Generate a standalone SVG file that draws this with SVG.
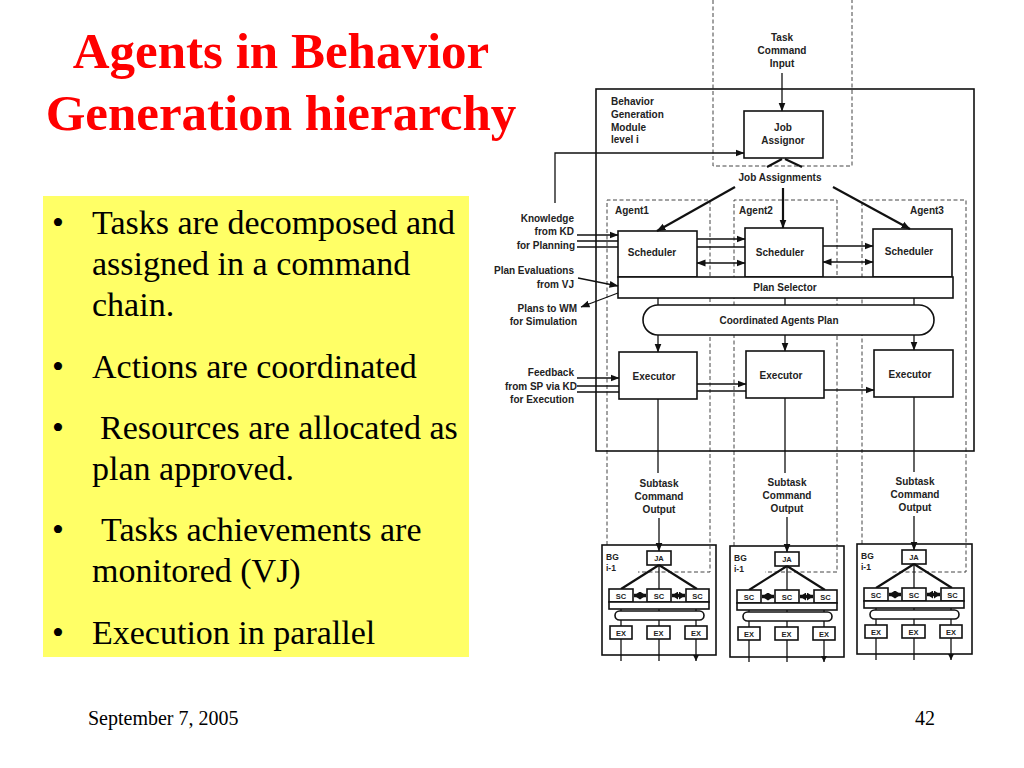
<svg xmlns="http://www.w3.org/2000/svg" width="1024" height="768" viewBox="0 0 1024 768">
<defs>
<marker id="ah" markerUnits="userSpaceOnUse" markerWidth="9" markerHeight="8" refX="8.5" refY="4" orient="auto-start-reverse" viewBox="0 0 9 8"><path d="M0,0.5 L9,4 L0,7.5 z" fill="#111"/></marker>
<marker id="ahs" markerUnits="userSpaceOnUse" markerWidth="6" markerHeight="6" refX="6" refY="3" orient="auto-start-reverse" viewBox="0 0 6 6"><path d="M0,0 L6,3 L0,6 z" fill="#111"/></marker>
<marker id="ahb" markerUnits="userSpaceOnUse" markerWidth="6" markerHeight="8" refX="6" refY="4" orient="auto-start-reverse" viewBox="0 0 6 8"><path d="M0,0 L6,4 L0,8 z" fill="#111"/></marker>
</defs>
<style>
.box{fill:#fff;stroke:#111;stroke-width:1.6}
.obox{fill:none;stroke:#111;stroke-width:1.6}
.ln{fill:none;stroke:#111;stroke-width:1.3}
.thk{fill:none;stroke:#111;stroke-width:2.2}
.dbl{fill:none;stroke:#111;stroke-width:3.5}
.dash{fill:none;stroke:#444;stroke-width:1;stroke-dasharray:4 2.5}
.t{font-family:"Liberation Sans",Arial,sans-serif;font-weight:bold;font-size:10px;fill:#222}
.c{text-anchor:middle}
.r{text-anchor:end}
.s{font-size:7.5px}
.title{font-family:"Liberation Serif","Times New Roman",serif;font-weight:bold;font-size:51px;fill:#ff0000;text-anchor:middle}
.bul{font-family:"Liberation Serif","Times New Roman",serif;font-size:34px;fill:#000}
.foot{font-family:"Liberation Serif","Times New Roman",serif;font-size:20px;fill:#000}
</style>
<rect x="0" y="0" width="1024" height="768" fill="#fff"/>

<g id="title">
<text class="title" x="281" y="68">Agents in Behavior</text>
<text class="title" x="281" y="130">Generation hierarchy</text>
</g>

<g id="bullets">
<rect x="43" y="196" width="426" height="461" fill="#ffff66"/>
<text class="bul" x="52" y="234">•</text>
<text class="bul" x="92" y="234">Tasks are decomposed and</text>
<text class="bul" x="92" y="275">assigned in a command</text>
<text class="bul" x="92" y="316">chain.</text>
<text class="bul" x="52" y="378">•</text>
<text class="bul" x="92" y="378">Actions are coordinated</text>
<text class="bul" x="52" y="439">•</text>
<text class="bul" x="100" y="439">Resources are allocated as</text>
<text class="bul" x="92" y="480">plan approved.</text>
<text class="bul" x="52" y="541">•</text>
<text class="bul" x="101" y="541">Tasks achievements are</text>
<text class="bul" x="92" y="582">monitored (VJ)</text>
<text class="bul" x="52" y="644">•</text>
<text class="bul" x="92" y="644">Execution in parallel</text>
</g>

<g id="footer">
<text class="foot" x="88" y="725">September 7, 2005</text>
<text class="foot" x="915" y="725">42</text>
</g>

<g id="agent-regions">
<path class="dash" d="M713,0 V166 H852 V0"/>
<path class="dash" d="M607,545 V200 H710 V545"/>
<path class="dash" d="M734,546 V200 H837 V546"/>
<path class="dash" d="M862,544 V200 H966 V544"/>
</g>

<g id="bg-module">
<rect class="obox" x="596" y="89" width="378" height="362"/>
<text class="t" x="611" y="105">Behavior</text>
<text class="t" x="611" y="118">Generation</text>
<text class="t" x="611" y="131">Module</text>
<text class="t" x="611" y="143">level i</text>
</g>

<g id="task-input">
<text class="t c" x="782" y="41">Task</text>
<text class="t c" x="782" y="54">Command</text>
<text class="t c" x="782" y="67">Input</text>
</g>

<g id="job-assignor">
<rect class="box" x="744" y="111" width="79" height="47"/>
<text class="t c" x="783" y="131">Job</text>
<text class="t c" x="783" y="144">Assignor</text>
</g>

<g id="job-assignments-label">
<text class="t c" x="780" y="181">Job Assignments</text>
</g>

<g id="agent-labels">
<text class="t" x="615" y="214">Agent1</text>
<text class="t" x="739" y="214">Agent2</text>
<text class="t" x="910" y="214">Agent3</text>
</g>

<g id="scheduler1">
<rect class="box" x="618" y="231" width="79" height="46"/>
<text class="t c" x="652" y="256">Scheduler</text>
</g>
<g id="scheduler2">
<rect class="box" x="745" y="228" width="78" height="49"/>
<text class="t c" x="780" y="256">Scheduler</text>
</g>
<g id="scheduler3">
<rect class="box" x="873" y="229" width="79" height="48"/>
<text class="t c" x="909" y="255">Scheduler</text>
</g>

<g id="plan-selector">
<rect class="box" x="618" y="277" width="335" height="21"/>
<text class="t c" x="785" y="291">Plan Selector</text>
</g>

<g id="coordinated-plan">
<rect class="box" x="643" y="305" width="291" height="30" rx="15" ry="15"/>
<text class="t c" x="779" y="324">Coordinated Agents Plan</text>
</g>

<g id="executor1">
<rect class="box" x="619" y="352" width="78" height="47"/>
<text class="t c" x="654" y="380">Executor</text>
</g>
<g id="executor2">
<rect class="box" x="746" y="351" width="78" height="47"/>
<text class="t c" x="781" y="379">Executor</text>
</g>
<g id="executor3">
<rect class="box" x="874" y="350" width="79" height="47"/>
<text class="t c" x="910" y="378">Executor</text>
</g>

<g id="side-labels">
<text class="t r" x="574" y="222">Knowledge</text>
<text class="t r" x="574" y="235">from KD</text>
<text class="t r" x="575" y="249">for Planning</text>
<text class="t r" x="574" y="274">Plan Evaluations</text>
<text class="t r" x="574" y="288">from VJ</text>
<text class="t r" x="577" y="312">Plans to WM</text>
<text class="t r" x="577" y="325">for Simulation</text>
<text class="t r" x="574" y="376">Feedback</text>
<text class="t r" x="577" y="390">from SP via KD</text>
<text class="t r" x="574" y="403">for Execution</text>
</g>

<g id="subtask-labels">
<text class="t c" x="659" y="487">Subtask</text>
<text class="t c" x="659" y="500">Command</text>
<text class="t c" x="659" y="513">Output</text>
<text class="t c" x="787" y="486">Subtask</text>
<text class="t c" x="787" y="499">Command</text>
<text class="t c" x="787" y="512">Output</text>
<text class="t c" x="915" y="485">Subtask</text>
<text class="t c" x="915" y="498">Command</text>
<text class="t c" x="915" y="511">Output</text>
</g>

<g id="bg-lower-1" transform="translate(602,545)">
<rect class="box" x="0" y="0" width="114" height="110"/>
<path class="dash" d="M108,0 V27 H36"/>
<text class="t" x="4" y="15" style="font-size:8.5px">BG</text>
<text class="t" x="4" y="26" style="font-size:8.5px">i-1</text>
<rect class="box" x="45" y="6" width="24" height="14"/>
<text class="t c s" x="57" y="16">JA</text>
<path class="thk" d="M57,20 L19,44 M57,20 L95,44"/>
<path class="ln" d="M57,20 V44"/>
<rect class="box" x="7" y="44" width="24" height="13"/>
<rect class="box" x="45" y="44" width="24" height="13"/>
<rect class="box" x="84" y="44" width="23" height="13"/>
<text class="t c s" x="19" y="53.5">SC</text>
<text class="t c s" x="57" y="53.5">SC</text>
<text class="t c s" x="95.5" y="53.5">SC</text>
<path class="dbl" d="M32,50.5 H44" marker-start="url(#ahb)" marker-end="url(#ahb)"/>
<path class="dbl" d="M70,50.5 H83" marker-start="url(#ahb)" marker-end="url(#ahb)"/>
<rect class="box" x="7" y="57" width="100" height="7"/>
<path class="ln" d="M19,64 V81 M57,64 V81 M94,64 V81"/>
<rect class="box" x="13" y="66" width="89" height="9" rx="4.5"/>
<rect class="box" x="8" y="81" width="22" height="13"/>
<rect class="box" x="45" y="81" width="23" height="13"/>
<rect class="box" x="83" y="81" width="22" height="13"/>
<text class="t c s" x="19" y="90.5">EX</text>
<text class="t c s" x="56.5" y="90.5">EX</text>
<text class="t c s" x="94" y="90.5">EX</text>
<path class="ln" d="M19,94 V116 M57,94 V116 M94,94 V116" marker-end="url(#ahs)"/>
</g>

<g id="bg-lower-2" transform="translate(730,546)">
<rect class="box" x="0" y="0" width="114" height="111"/>
<path class="dash" d="M107,0 V26 H35"/>
<text class="t" x="4" y="15" style="font-size:8.5px">BG</text>
<text class="t" x="4" y="26" style="font-size:8.5px">i-1</text>
<rect class="box" x="45" y="6" width="24" height="14"/>
<text class="t c s" x="57" y="16">JA</text>
<path class="thk" d="M57,20 L19,44 M57,20 L95,44"/>
<path class="ln" d="M57,20 V44"/>
<rect class="box" x="7" y="44" width="24" height="13"/>
<rect class="box" x="45" y="44" width="24" height="13"/>
<rect class="box" x="84" y="44" width="23" height="13"/>
<text class="t c s" x="19" y="53.5">SC</text>
<text class="t c s" x="57" y="53.5">SC</text>
<text class="t c s" x="95.5" y="53.5">SC</text>
<path class="dbl" d="M32,50.5 H44" marker-start="url(#ahb)" marker-end="url(#ahb)"/>
<path class="dbl" d="M70,50.5 H83" marker-start="url(#ahb)" marker-end="url(#ahb)"/>
<rect class="box" x="7" y="57" width="100" height="7"/>
<path class="ln" d="M19,64 V81 M57,64 V81 M94,64 V81"/>
<rect class="box" x="13" y="66" width="89" height="9" rx="4.5"/>
<rect class="box" x="8" y="81" width="22" height="13"/>
<rect class="box" x="45" y="81" width="23" height="13"/>
<rect class="box" x="83" y="81" width="22" height="13"/>
<text class="t c s" x="19" y="90.5">EX</text>
<text class="t c s" x="56.5" y="90.5">EX</text>
<text class="t c s" x="94" y="90.5">EX</text>
<path class="ln" d="M19,94 V116 M57,94 V116 M94,94 V116" marker-end="url(#ahs)"/>
</g>

<g id="bg-lower-3" transform="translate(857,544)">
<rect class="box" x="0" y="0" width="115" height="110"/>
<path class="dash" d="M109,0 V28 H35"/>
<text class="t" x="4" y="15" style="font-size:8.5px">BG</text>
<text class="t" x="4" y="26" style="font-size:8.5px">i-1</text>
<rect class="box" x="45" y="6" width="24" height="14"/>
<text class="t c s" x="57" y="16">JA</text>
<path class="thk" d="M57,20 L19,44 M57,20 L95,44"/>
<path class="ln" d="M57,20 V44"/>
<rect class="box" x="7" y="44" width="24" height="13"/>
<rect class="box" x="45" y="44" width="24" height="13"/>
<rect class="box" x="84" y="44" width="23" height="13"/>
<text class="t c s" x="19" y="53.5">SC</text>
<text class="t c s" x="57" y="53.5">SC</text>
<text class="t c s" x="95.5" y="53.5">SC</text>
<path class="dbl" d="M32,50.5 H44" marker-start="url(#ahb)" marker-end="url(#ahb)"/>
<path class="dbl" d="M70,50.5 H83" marker-start="url(#ahb)" marker-end="url(#ahb)"/>
<rect class="box" x="7" y="57" width="100" height="7"/>
<path class="ln" d="M19,64 V81 M57,64 V81 M94,64 V81"/>
<rect class="box" x="13" y="66" width="89" height="9" rx="4.5"/>
<rect class="box" x="8" y="81" width="22" height="13"/>
<rect class="box" x="45" y="81" width="23" height="13"/>
<rect class="box" x="83" y="81" width="22" height="13"/>
<text class="t c s" x="19" y="90.5">EX</text>
<text class="t c s" x="56.5" y="90.5">EX</text>
<text class="t c s" x="94" y="90.5">EX</text>
<path class="ln" d="M19,94 V116 M57,94 V116 M94,94 V116" marker-end="url(#ahs)"/>
</g>

<g id="connectors">
<path class="ln" d="M782,73 V111" marker-end="url(#ah)"/>
<path class="ln" d="M555,203 V153 H744" marker-end="url(#ah)"/>
<path class="thk" d="M767,167 L782,159 M785,159 L802,167"/>
<path class="thk" d="M735,187 L657,231" marker-end="url(#ah)"/>
<path class="thk" d="M783,188 V228" marker-end="url(#ah)"/>
<path class="thk" d="M833,187 L910,229" marker-end="url(#ah)"/>
<path class="ln" d="M577,235 H618" marker-end="url(#ah)"/>
<path class="ln" d="M577,241 H618 M577,247 H618"/>
<path class="ln" d="M578,278 L618,286" marker-end="url(#ah)"/>
<path class="ln" d="M618,293 L581,307" marker-end="url(#ah)"/>
<path class="ln" d="M697,239 H745" marker-end="url(#ah)"/>
<path class="ln" d="M697,247 H745"/>
<path class="ln" d="M697,263 H745" marker-start="url(#ah)" marker-end="url(#ah)"/>
<path class="ln" d="M823,246 H873" marker-end="url(#ah)"/>
<path class="ln" d="M823,262 H873" marker-start="url(#ah)" marker-end="url(#ah)"/>
<path class="ln" d="M658,298 V305 M785,298 V305 M914,298 V305"/>
<path class="ln" d="M658,335 V352" marker-end="url(#ah)"/>
<path class="ln" d="M785,335 V351" marker-end="url(#ah)"/>
<path class="ln" d="M914,335 V350" marker-end="url(#ah)"/>
<path class="ln" d="M577,378 H619" marker-end="url(#ah)"/>
<path class="ln" d="M577,386 H619 M577,392 H619"/>
<path class="ln" d="M697,384 H746" marker-end="url(#ah)"/>
<path class="ln" d="M697,391 H746"/>
<path class="ln" d="M824,390 H874" marker-end="url(#ah)"/>
<path class="ln" d="M658,399 V473 M785,398 V473 M914,397 V472"/>
<path class="ln" d="M659,518 V551" marker-end="url(#ah)"/>
<path class="ln" d="M787,517 V552" marker-end="url(#ah)"/>
<path class="ln" d="M914,516 V550" marker-end="url(#ah)"/>
</g>
</svg>
